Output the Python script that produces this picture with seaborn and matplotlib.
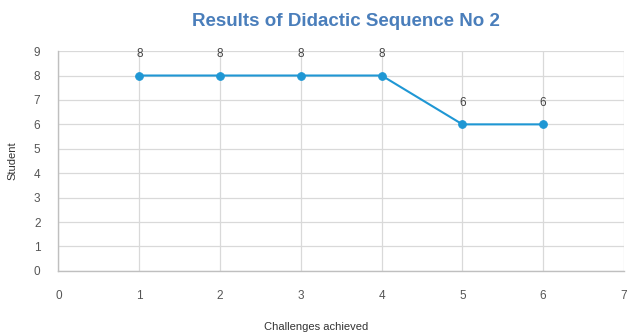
import matplotlib
matplotlib.use("Agg")
import matplotlib.pyplot as plt
import seaborn as sns
import pandas as pd

challenges = [1, 2, 3, 4, 5, 6]
students = [8, 8, 8, 8, 6, 6]
x_ticks = [0, 1, 2, 3, 4, 5, 6, 7]
y_ticks = [0, 1, 2, 3, 4, 5, 6, 7, 8, 9]

sns.set_theme(style="whitegrid")
plt.rcParams["font.family"] = ["Liberation Sans", "DejaVu Sans"]

df = pd.DataFrame({"Challenges achieved": challenges, "Student": students})

fig = plt.figure(figsize=(6.29, 3.34), dpi=100)
ax = fig.add_axes([0.093, 0.189, 0.899, 0.658])

line_color = "#1f97d4"
sns.lineplot(data=df, x="Challenges achieved", y="Student", ax=ax,
             color=line_color, linewidth=1.5, marker="o", markersize=5.5,
             markeredgecolor=line_color)

for xv, yv in zip(challenges, students):
    ax.annotate(str(yv), (xv, yv), xytext=(0, 11), textcoords="offset points",
                ha="center", va="bottom", fontsize=8.5, color="#444444")

ax.set_xlim(0, 7)
ax.set_ylim(0, 9)
ax.set_xticks(x_ticks)
ax.set_yticks(y_ticks)
ax.grid(True, color="#d9d9d9", linewidth=0.9)
ax.tick_params(axis="x", length=0, labelsize=8.5, labelcolor="#555555", pad=14)
ax.tick_params(axis="y", length=0, labelsize=8.5, labelcolor="#555555", pad=13)

for side in ["top", "right"]:
    ax.spines[side].set_visible(False)
for side in ["left", "bottom"]:
    ax.spines[side].set_visible(True)
    ax.spines[side].set_color("#bfbfbf")
    ax.spines[side].set_linewidth(1.0)

ax.set_xlabel("Challenges achieved", fontsize=8, color="#333333", labelpad=14)
ax.xaxis.label.set_x(0.455)
ax.set_ylabel("Student", fontsize=8, color="#333333")
ax.yaxis.set_label_coords(-0.072, 0.5)

fig.suptitle("Results of Didactic Sequence No 2", x=0.55, y=0.962,
             fontsize=13.5, fontweight="bold", color="#4a7ebb")

fig.savefig("out.png", dpi=100, facecolor="white")
